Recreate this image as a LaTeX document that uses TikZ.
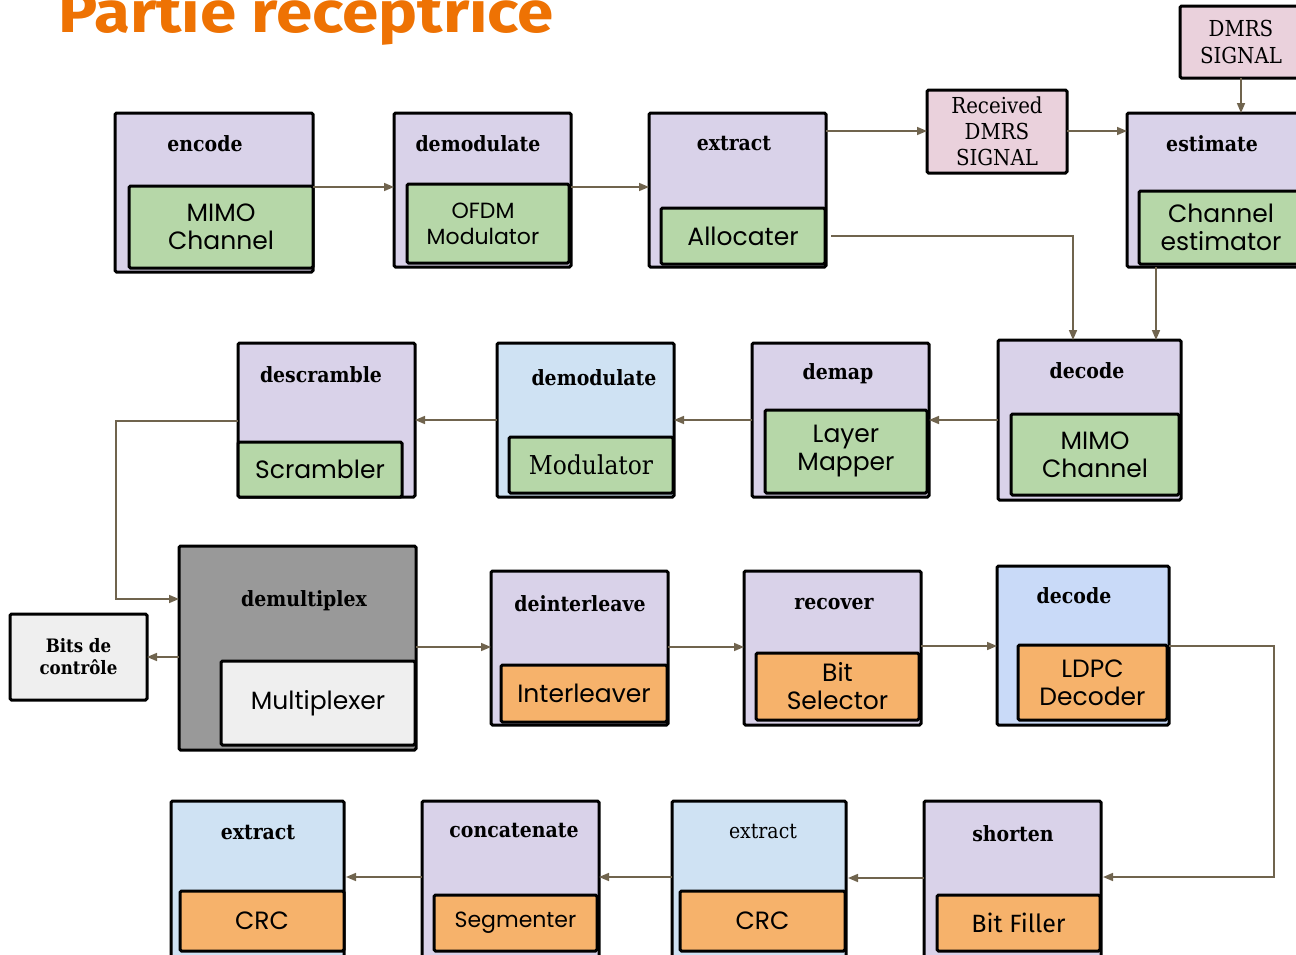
\documentclass[tikz,border=0pt]{standalone}
\usepackage{fontspec}
\setmainfont{DejaVu Serif Condensed}
\newfontfamily\geofont{Poppins}
\newfontfamily\firafont{Fira Sans}
\usetikzlibrary{arrows.meta}

\definecolor{lav}{HTML}{D9D2E9}
\definecolor{grn}{HTML}{B6D7A8}
\definecolor{lblue}{HTML}{CFE2F3}
\definecolor{cblue}{HTML}{C9DAF8}
\definecolor{org}{HTML}{F6B26B}
\definecolor{pnk}{HTML}{EAD1DC}
\definecolor{dgray}{HTML}{999999}
\definecolor{lgray}{HTML}{EFEFEF}
\definecolor{arrc}{RGB}{112,100,78}
\definecolor{headc}{HTML}{EE7203}

\tikzset{
  box/.style={draw=black, line width=3pt, rounded corners=1.5pt, inner sep=0pt,
              outer sep=0pt, anchor=north west, align=center},
  ttl/.style={font=\fontsize{21}{24}\selectfont\bfseries, inner sep=0pt},
  geo/.style={font=\geofont\fontsize{25}{28}\selectfont},
  serif/.style={font=\fontsize{26}{30}\selectfont},
  lbl/.style={font=\fontsize{22}{26}\selectfont},
  arr/.style={draw=arrc, line width=1.6pt, -{Triangle[length=10pt,width=8pt]}},
}
% block: name, x, y (top left), width, height, fill
\newcommand\blk[6]{\node[box, fill=#6, minimum width=#4pt, minimum height=#5pt] (#1) at (#2,#3) {};}

\begin{document}
\begin{tikzpicture}[x=1pt, y=-1pt]
\useasboundingbox (0,0) rectangle (1296,954);
\clip (0,0) rectangle (1296,954);

% heading
\node[anchor=base west, inner sep=0pt, text=headc] (head) at (58,32)
  {\firafont\bfseries\fontsize{58}{60}\selectfont\scalebox{1.13}[1]{Partie réceptrice}};

% ---- row 1 ----
\blk{encO}{115}{113}{198}{159}{lav}
\node[box, fill=grn, minimum width=184pt, minimum height=82pt, geo] (encI) at (129,186) {MIMO\\Channel};
\node[ttl] (encT) at (205,144) {encode};

\blk{dm1O}{394}{113}{177}{154}{lav}
\node[box, fill=grn, minimum width=162pt, minimum height=79pt, font=\geofont\fontsize{22}{26}\selectfont] (dm1I) at (407,184) {\hspace*{-10pt}OFDM\\\hspace*{-10pt}Modulator};
\node[ttl] (dm1T) at (478,144) {demodulate};

\blk{ex1O}{649}{113}{177}{154}{lav}
\node[box, fill=grn, minimum width=164pt, minimum height=56pt, geo] (ex1I) at (661,208) {Allocater};
\node[ttl] (ex1T) at (734,144) {extract};

\node[box, fill=pnk, minimum width=140pt, minimum height=83pt, lbl] (recv) at (927,90) {Received\\DMRS\\SIGNAL};
\node[box, fill=pnk, minimum width=130pt, minimum height=72pt, font=\fontsize{22}{27}\selectfont] (dmrs) at (1180,6) {\hspace*{-8pt}DMRS\\\hspace*{-8pt}SIGNAL};

\blk{esO}{1127}{113}{190}{154}{lav}
\node[box, fill=grn, minimum width=170pt, minimum height=73pt, geo] (esI) at (1139,191) {\hspace*{-6pt}Channel\\\hspace*{-6pt}estimator};
\node[ttl] (esT) at (1212,144) {estimate};

% ---- row 2 ----
\blk{dsO}{238}{343}{177}{154}{lav}
\node[box, fill=grn, minimum width=164pt, minimum height=55pt, geo] (dsI) at (238,442) {Scrambler};
\node[ttl] (dsT) at (321,375) {descramble};

\blk{dm2O}{497}{343}{177}{154}{lblue}
\node[box, fill=grn, minimum width=164pt, minimum height=56pt, serif] (dm2I) at (509,437) {Modulator};
\node[ttl] (dm2T) at (594,378) {demodulate};

\blk{dpO}{752}{343}{177}{154}{lav}
\node[box, fill=grn, minimum width=162pt, minimum height=83pt, geo] (dpI) at (765,410) {Layer\\Mapper};
\node[ttl] (dpT) at (838,374) {demap};

\blk{dc1O}{998}{340}{183}{160}{lav}
\node[box, fill=grn, minimum width=168pt, minimum height=81pt, geo] (dc1I) at (1011,414) {MIMO\\Channel};
\node[ttl] (dc1T) at (1087,371) {decode};

% ---- row 3 ----
\node[box, fill=lgray, minimum width=137pt, minimum height=86pt, font=\fontsize{18.5}{22}\selectfont\bfseries] (bits) at (10,614) {Bits de\\contrôle};

\blk{dxO}{179}{546}{237}{204}{dgray}
\node[box, fill=lgray, minimum width=194pt, minimum height=84pt, geo] (dxI) at (221,661) {Multiplexer};
\node[ttl] (dxT) at (304,601) {demultiplex};

\blk{diO}{491}{571}{177}{154}{lav}
\node[box, fill=org, minimum width=166pt, minimum height=57pt, geo] (diI) at (501,665) {Interleaver};
\node[ttl] (diT) at (580,604) {deinterleave};

\blk{rcO}{744}{571}{177}{154}{lav}
\node[box, fill=org, minimum width=163pt, minimum height=67pt, geo] (rcI) at (756,653) {Bit\\Selector};
\node[ttl] (rcT) at (834,604) {recover};

\blk{dc2O}{997}{566}{172}{159}{cblue}
\node[box, fill=org, minimum width=149pt, minimum height=75pt, geo] (dc2I) at (1018,645) {LDPC\\Decoder};
\node[ttl] (dc2T) at (1074,596) {decode};

% ---- row 4 ----
\blk{ex2O}{171}{801}{173}{158}{lblue}
\node[box, fill=org, minimum width=164pt, minimum height=60pt, geo] (ex2I) at (180,891) {CRC};
\node[ttl] (ex2T) at (258,832) {extract};

\blk{ccO}{422}{801}{177}{158}{lav}
\node[box, fill=org, minimum width=163pt, minimum height=56pt, font=\geofont\fontsize{22}{26}\selectfont] (ccI) at (434,895) {Segmenter};
\node[ttl] (ccT) at (514,830) {concatenate};

\blk{ex3O}{672}{801}{174}{158}{lblue}
\node[box, fill=org, minimum width=165pt, minimum height=60pt, geo] (ex3I) at (680,891) {CRC};
\node[inner sep=0pt, font=\fontsize{21}{24}\selectfont] (ex3T) at (763,831) {extract};

\blk{shO}{924}{801}{177}{158}{lav}
\node[box, fill=org, minimum width=163pt, minimum height=56pt, font=\firafont\fontsize{25}{28}\selectfont] (shI) at (937,895) {Bit Filler};
\node[ttl] (shT) at (1013,834) {shorten};

% ---- connectors ----
\draw[arr] (encO.east |- 0,187) -- (dm1O.west |- 0,187);
\draw[arr] (dm1O.east |- 0,187) -- (ex1O.west |- 0,187);
\draw[arr] (ex1O.east |- 0,131) -- (recv.west |- 0,131);
\draw[arr] (recv.east |- 0,131) -- (esO.west |- 0,131);
\draw[arr] (dmrs.south -| 1241,0) -- (esO.north -| 1241,0);
\draw[arr] ([xshift=6pt]ex1I.east) -| (dc1O.north -| 1073,0);
\draw[arr] (esO.south -| 1156,0) -- (dc1O.north -| 1156,0);

\draw[arr] (dc1O.west |- 0,420) -- (dpO.east |- 0,420);
\draw[arr] (dpO.west |- 0,420) -- (dm2O.east |- 0,420);
\draw[arr] (dm2O.west |- 0,420) -- (dsO.east |- 0,420);
\draw[arr] (dsO.west |- 0,421) -- (116,421) |- (dxO.west |- 0,599);

\draw[arr] (dxO.west |- 0,657) -- (bits.east |- 0,657);
\draw[arr] (dxO.east |- 0,647) -- (diO.west |- 0,647);
\draw[arr] (diO.east |- 0,647) -- (rcO.west |- 0,647);
\draw[arr] (rcO.east |- 0,646) -- (dc2O.west |- 0,646);
\draw[arr] (dc2O.east |- 0,646) -- (1274,646) |- ([xshift=2pt]shO.east |- 0,877);

\draw[arr] (shO.west |- 0,878) -- ([xshift=2pt]ex3O.east |- 0,878);
\draw[arr] (ex3O.west |- 0,877) -- (ccO.east |- 0,877);
\draw[arr] (ccO.west |- 0,877) -- ([xshift=2pt]ex2O.east |- 0,877);
\end{tikzpicture}
\end{document}
